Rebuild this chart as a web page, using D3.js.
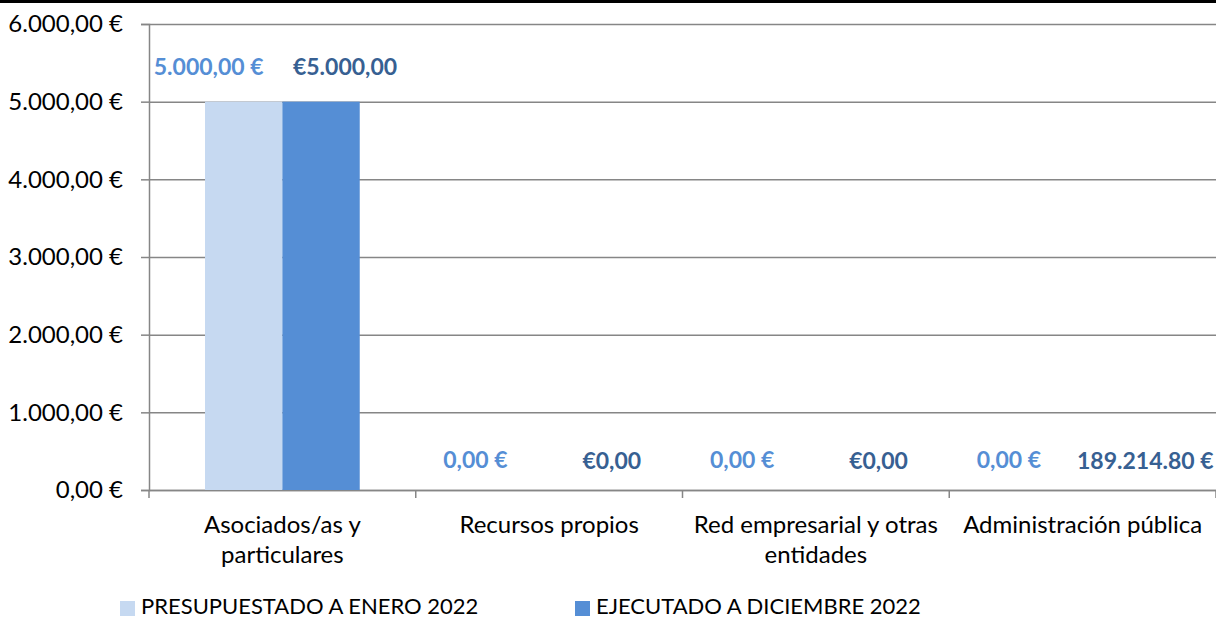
<!DOCTYPE html>
<meta charset="utf-8">
<script src="https://d3js.org/d3.v7.min.js"></script>
<style>
  body { margin: 0; background: #fff; }
  text { font-family: Lato, "Open Sans", sans-serif; }
</style>
<div id="chart"></div>
<script>

// data
var categories = ["Asociados/as y\nparticulares", "Recursos propios", "Red empresarial y otras\nentidades", "Administración pública"];
var seriesNames = ["PRESUPUESTADO A ENERO 2022", "EJECUTADO A DICIEMBRE 2022"];
var presupuestado = [5000, 0, 0, 0];
var ejecutado = [5000, 0, 0, 0];
var ejecutadoLabels = ["€5.000,00", "€0,00", "€0,00", "189.214.80 €"];
var yTicks = [0, 1000, 2000, 3000, 4000, 5000, 6000];

var width = 1216, height = 619;
var margin = {top: 24, right: 0, bottom: 129, left: 149};
var colors = ["#C6D9F1", "#558ED5"];
var labelColors = ["#558ED5", "#376092"];

var es = d3.formatLocale({decimal: ",", thousands: ".", grouping: [3], currency: ["", " €"]});
var fmt = es.format("$,.2f");

var svg = d3.select("#chart").append("svg")
    .attr("width", width)
    .attr("height", height);

// black rule along the top edge
svg.append("rect").attr("x", 0).attr("y", 0).attr("width", width).attr("height", 3).attr("fill", "#000");

var g = svg.append("g").attr("transform", "translate(" + margin.left + "," + margin.top + ")");
var w = width - margin.left - margin.right;
var h = height - margin.top - margin.bottom;

var x0 = d3.scaleBand().domain(d3.range(categories.length)).range([0, w]).padding(0);
var x1 = d3.scaleBand().domain([0, 1]).range([x0.bandwidth() * 0.21, x0.bandwidth() * 0.79]).padding(0);
var y = d3.scaleLinear().domain([0, 6000]).range([h, 0]);

// gridlines
g.append("g")
  .call(d3.axisLeft(y).tickValues(yTicks).tickSize(-w).tickFormat(""))
  .call(function(s) { s.select(".domain").remove(); })
  .selectAll("line").attr("stroke", "#868686").attr("stroke-width", 1.5);

// y axis
var ya = g.append("g")
  .call(d3.axisLeft(y).tickValues(yTicks).tickSize(8).tickPadding(18).tickFormat(fmt));
ya.select(".domain").attr("stroke", "#868686").attr("stroke-width", 1.5);
ya.selectAll("line").attr("stroke", "#868686").attr("stroke-width", 1.5);
ya.selectAll("text").attr("fill", "#000").style("font-size", "24px").style("font-family", "Lato");

// x axis
var xa = g.append("g").attr("transform", "translate(0," + h + ")")
  .call(d3.axisBottom(x0).tickSize(0).tickFormat(""));
xa.select(".domain").attr("stroke", "#868686").attr("stroke-width", 1.5);
xa.selectAll(".cattick").data(d3.range(categories.length + 1)).enter().append("line")
  .attr("x1", function(d) { return d * x0.bandwidth(); })
  .attr("x2", function(d) { return d * x0.bandwidth(); })
  .attr("y1", 0).attr("y2", 8)
  .attr("stroke", "#868686").attr("stroke-width", 1.5);

categories.forEach(function(c, i) {
  var lines = c.split("\n");
  var t = g.append("text")
    .attr("x", x0(i) + x0.bandwidth() / 2)
    .attr("y", h + 43)
    .attr("text-anchor", "middle")
    .style("font-size", "24px")
    .attr("fill", "#000");
  lines.forEach(function(l, j) {
    t.append("tspan").attr("x", x0(i) + x0.bandwidth() / 2).attr("dy", j == 0 ? 0 : 30).text(l);
  });
});

// bars
var series = [presupuestado, ejecutado];
series.forEach(function(vals, s) {
  g.selectAll(".bar" + s).data(vals).enter().append("rect")
    .attr("x", function(d, i) { return x0(i) + x1(s); })
    .attr("width", x1.bandwidth())
    .attr("y", function(d) { return y(d); })
    .attr("height", function(d) { return h - y(d); })
    .attr("fill", colors[s]);
});

// value labels (moved by hand in the original)
presupuestado.forEach(function(d, i) {
  var cx = x0(i) + x1(0) + x1.bandwidth() / 2 - 35;
  g.append("text")
    .attr("x", cx)
    .attr("y", d > 0 ? y(d) - 27 : y(d) - 22)
    .attr("text-anchor", "middle")
    .style("font-size", "23px").style("font-weight", "bold")
    .attr("fill", labelColors[0])
    .text(fmt(d));
});
ejecutado.forEach(function(d, i) {
  var cx = x0(i) + x1(1) + x1.bandwidth() / 2 + 24;
  g.append("text")
    .attr("x", cx)
    .attr("y", d > 0 ? y(d) - 27 : y(d) - 21)
    .attr("text-anchor", "middle")
    .style("font-size", "23px").style("font-weight", "bold")
    .attr("fill", labelColors[1])
    .text(ejecutadoLabels[i]);
});

// legend
var legendX = [120, 575];
seriesNames.forEach(function(n, i) {
  svg.append("rect").attr("x", legendX[i]).attr("y", 601).attr("width", 15).attr("height", 15).attr("fill", colors[i]);
  svg.append("text").attr("x", legendX[i] + 21).attr("y", 614)
    .style("font-size", "22px").attr("fill", "#000").text(n);
});
</script>
